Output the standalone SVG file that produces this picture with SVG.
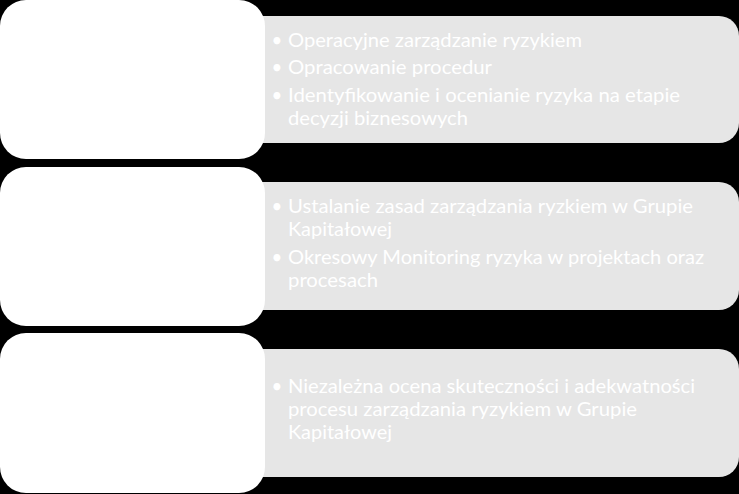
<svg xmlns="http://www.w3.org/2000/svg" width="739" height="494" viewBox="0 0 739 494">
  <style>
    .white { fill: #ffffff; }
    .gray { fill: #e6e6e6; }
    .t { font-family: Lato, "Liberation Sans", sans-serif; font-size: 18.6px; fill: #ffffff; }
    .b { font-family: Lato, "Liberation Sans", sans-serif; font-size: 18.6px; fill: #ffffff; text-anchor: middle; }
  </style>
  <rect x="0" y="0" width="739" height="494" fill="#000000"/>

  <g id="row1">
    <path class="gray" d="M245,16 H719 A20,20 0 0 1 739,36 V123 A20,20 0 0 1 719,143 H245 Z"/>
    <rect id="box1" class="white" x="0" y="0" width="265" height="159" rx="26" ry="26"/>
    <text class="b" x="277" y="47">•</text>
    <text class="t" x="288" y="47" textLength="294" lengthAdjust="spacingAndGlyphs">Operacyjne zarządzanie ryzykiem</text>
    <text class="b" x="277" y="74">•</text>
    <text class="t" x="288" y="74" textLength="204" lengthAdjust="spacingAndGlyphs">Opracowanie procedur</text>
    <text class="b" x="277" y="102">•</text>
    <text class="t" x="288" y="102" textLength="392" lengthAdjust="spacingAndGlyphs">Identyfikowanie i ocenianie ryzyka na etapie</text>
    <text class="t" x="288" y="125" textLength="180" lengthAdjust="spacingAndGlyphs">decyzji biznesowych</text>
  </g>

  <g id="row2">
    <path class="gray" d="M245,182 H719 A20,20 0 0 1 739,202 V290 A20,20 0 0 1 719,310 H245 Z"/>
    <rect id="box2" class="white" x="0" y="167" width="265" height="159" rx="26" ry="26"/>
    <text class="b" x="277" y="213">•</text>
    <text class="t" x="288" y="213" textLength="405" lengthAdjust="spacingAndGlyphs">Ustalanie zasad zarządzania ryzkiem w Grupie</text>
    <text class="t" x="288" y="236" textLength="104" lengthAdjust="spacingAndGlyphs">Kapitałowej</text>
    <text class="b" x="277" y="264">•</text>
    <text class="t" x="288" y="264" textLength="416" lengthAdjust="spacingAndGlyphs">Okresowy Monitoring ryzyka w projektach oraz</text>
    <text class="t" x="288" y="287" textLength="90" lengthAdjust="spacingAndGlyphs">procesach</text>
  </g>

  <g id="row3">
    <path class="gray" d="M245,349 H719 A20,20 0 0 1 739,369 V457 A20,20 0 0 1 719,477 H245 Z"/>
    <rect id="box3" class="white" x="0" y="333" width="265" height="160" rx="26" ry="26"/>
    <text class="b" x="277" y="393">•</text>
    <text class="t" x="288" y="393" textLength="407" lengthAdjust="spacingAndGlyphs">Niezależna ocena skuteczności i adekwatności</text>
    <text class="t" x="288" y="416" textLength="349" lengthAdjust="spacingAndGlyphs">procesu zarządzania ryzykiem w Grupie</text>
    <text class="t" x="288" y="439" textLength="104" lengthAdjust="spacingAndGlyphs">Kapitałowej</text>
  </g>
</svg>
